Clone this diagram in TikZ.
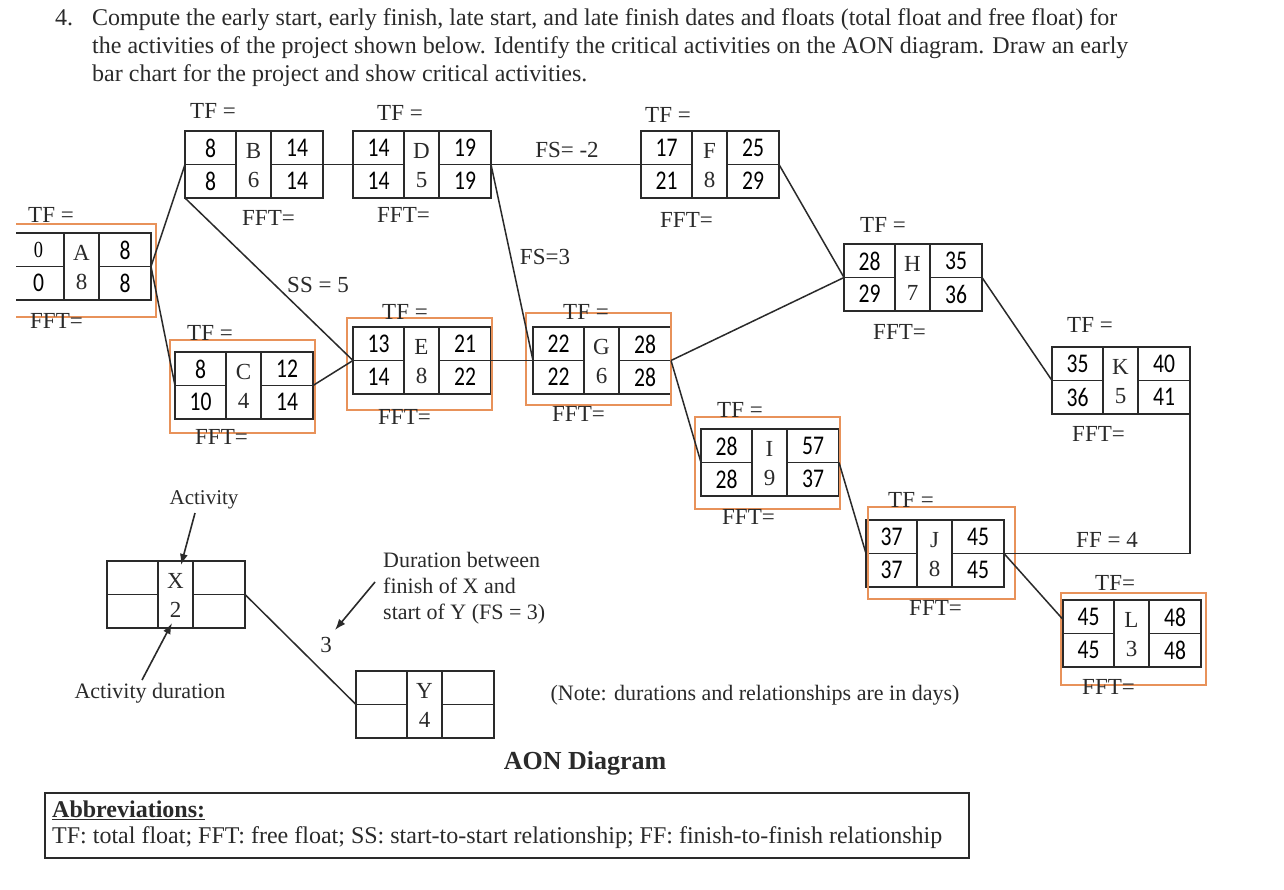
\documentclass[tikz,border=0pt]{standalone}
\usepackage{fontspec}
\setmainfont{Liberation Serif}
\newfontfamily\numfont{Carlito}
\usetikzlibrary{arrows.meta,calc}
\definecolor{ink}{HTML}{2A2A2A}
\definecolor{crit}{HTML}{E8925A}
\tikzset{
  actnode/.style={draw=ink, line width=1.8pt, minimum width=138pt, minimum height=67pt, inner sep=0pt, outer sep=0pt},
  boxline/.style={draw=ink, line width=1.8pt},
  num/.style={inner sep=0pt, text=black, font=\numfont\fontsize{27}{27}\selectfont},
  actl/.style={inner sep=0pt, text=ink, font=\fontsize{23}{23}\selectfont},
  lbl/.style={inner sep=0pt, text=ink, font=\fontsize{23}{23}\selectfont},
  txt/.style={inner sep=0pt, text=ink, font=\fontsize{22}{26}\selectfont},
  title/.style={inner sep=0pt, text=ink, font=\fontsize{24}{28}\selectfont},
  conn/.style={draw=ink, line width=1.5pt},
  critbox/.style={draw=crit, line width=1.6pt},
  pointer/.style={draw=ink, line width=1.6pt, -{Latex[length=11pt,width=8pt]}},
}
\newcommand\nb[1]{\scalebox{0.8}[1]{#1}}
\newcommand\actbox[9]{%
  \node[actnode, anchor=north west] (#1) at (#2,-#3) {};
  \draw[boxline] ($(#1.north west)+(51,0)$) -- ($(#1.south west)+(51,0)$);
  \draw[boxline] ($(#1.north west)+(86,0)$) -- ($(#1.south west)+(86,0)$);
  \draw[boxline] (#1.west) -- ($(#1.west)+(51,0)$);
  \draw[boxline] ($(#1.west)+(86,0)$) -- (#1.east);
  \node[num] (#1-es) at ($(#1.north west)+(25.5,-17)$) {\nb{#4}};
  \node[actl] (#1-n) at ($(#1.north west)+(68.5,-20)$) {#5};
  \node[num] (#1-ef) at ($(#1.north west)+(112,-17)$) {\nb{#6}};
  \node[num] (#1-ls) at ($(#1.north west)+(25.5,-50)$) {\nb{#7}};
  \node[actl] (#1-d) at ($(#1.north west)+(68.5,-49)$) {#8};
  \node[num] (#1-lf) at ($(#1.north west)+(112,-50)$) {\nb{#9}};
}
% name, dx, dy(above top), text
\newcommand\tflbl[4]{\node[lbl, anchor=west] (#1-tf) at ($(#1.north west)+(#2,#3)$) {#4};}
\newcommand\fftlbl[3]{\node[lbl, anchor=west] (#1-fft) at ($(#1.south west)+(#2,-#3)$) {FFT=};}
\begin{document}
\begin{tikzpicture}[x=1pt,y=1pt]
\useasboundingbox (0,0) rectangle (1284,-890);
\fill[white] (0,0) rectangle (1284,-890);
% title
\node[title, anchor=base west] (qnum) at (55,-26) {4.};
\node[title, anchor=base west] (q1) at (92,-26) {Compute the early start, early finish, late start, and late finish dates and floats (total float and free float) for};
\node[title, anchor=base west] (q2) at (92,-54) {the activities of the project shown below. Identify the critical activities on the AON diagram. Draw an early};
\node[title, anchor=base west] (q3) at (92,-82) {bar chart for the project and show critical activities.};

\begin{scope}
\clip (16,5) rectangle (1290,-895);
% activity boxes
\actbox{A}{13}{233}{{\rmfamily\fontsize{23}{23}\selectfont 0}}{A}{8}{0}{8}{8}
\actbox{B}{185}{131}{8}{B}{14}{8}{6}{14}
\actbox{C}{175}{352}{8}{C}{12}{10}{4}{14}
\actbox{D}{353}{131}{14}{D}{19}{14}{5}{19}
\actbox{E}{353}{327}{13}{E}{21}{14}{8}{22}
\actbox{F}{641}{131}{17}{F}{25}{21}{8}{29}
\actbox{G}{533}{327}{22}{G}{28}{22}{6}{28}
\actbox{H}{844}{244}{28}{H}{35}{29}{7}{36}
\actbox{I}{701}{429}{28}{I}{57}{28}{9}{37}
\actbox{J}{866}{520}{37}{J}{45}{37}{8}{45}
\actbox{K}{1052}{347}{35}{K}{40}{36}{5}{41}
\actbox{L}{1063}{600}{45}{L}{48}{45}{3}{48}

% critical highlight frames
\draw[critbox] (5,-224) rectangle (156,-317);
\draw[critbox] (170,-340) rectangle (315,-433);
\draw[critbox] (347,-318) rectangle (492,-410);
\draw[critbox] (526,-313) rectangle (671,-405);
\draw[critbox] (695,-417) rectangle (840,-509);
\draw[critbox] (868,-507) rectangle (1015,-599);
\draw[critbox] (1061,-593) rectangle (1206,-685);

% float labels
\tflbl{A}{15}{18}{TF =}
\tflbl{B}{5}{20}{TF =}
\tflbl{C}{12}{19}{TF =}
\tflbl{D}{24}{18}{TF =}
\tflbl{E}{29}{15}{TF =}
\tflbl{F}{4}{16}{TF =}
\tflbl{G}{30}{15}{TF =}
\tflbl{H}{16}{19}{TF =}
\tflbl{I}{16}{19}{TF =}
\tflbl{J}{22}{20}{TF =}
\tflbl{K}{15}{22}{TF =}
\tflbl{L}{32}{17}{TF=}
\fftlbl{A}{17}{21}
\fftlbl{B}{57}{20}
\fftlbl{C}{20}{18}
\fftlbl{D}{24}{17}
\fftlbl{E}{25}{23}
\fftlbl{F}{19}{22}
\fftlbl{G}{19}{20}
\fftlbl{H}{29}{21}
\fftlbl{I}{21}{21}
\fftlbl{J}{43}{21}
\fftlbl{K}{20}{20}
\fftlbl{L}{19}{20}

% connectors
\draw[conn] (A.east) -- (B.west);
\draw[conn] (A.east) -- (C.west);
\draw[conn] (B.east) -- (D.west);
\draw[conn] (B.south west) -- (E.west);
\draw[conn] (C.east) -- (E.west);
\draw[conn] (D.east) -- (F.west);
\draw[conn] (D.east) -- (G.west);
\draw[conn] (E.east) -- (G.west);
\draw[conn] (F.east) -- (H.west);
\draw[conn] (G.east) -- (H.west);
\draw[conn] (G.east) -- (I.west);
\draw[conn] (H.east) -- (K.west);
\draw[conn] (I.east) -- (J.west);
\draw[conn] (J.east) -- ([yshift=14pt]L.west);
\draw[conn] (J.east) -- (K.south east |- J.east) -- (K.south east);
\end{scope}

% relationship labels
\node[lbl] (ss) at (318,-285) {SS = 5};
\node[lbl] (fsm2) at (567,-150) {FS= -2};
\node[lbl] (fs3) at (545,-257) {FS=3};
\node[lbl] (ff4) at (1107,-540) {FF = 4};

% legend
\actbox{X}{107}{561}{}{X}{}{}{2}{}
\actbox{Y}{356}{671}{}{Y}{}{}{4}{}
\draw[conn] (X.east) -- (Y.west);
\node[txt, font=\fontsize{21}{21}\selectfont] (actlbl) at (204,-500) {Activity};
\node[txt] (durlbl) at (150,-693) {Activity duration};
\node[txt, align=left, anchor=west] (fslbl) at (383,-588) {Duration between\\finish of X and\\start of Y (FS = 3)};
\node[lbl] (three) at (326,-645) {3};
\coordinate (actS) at (195,-513);
\coordinate (actT) at (181,-565);
\coordinate (durS) at (142,-680);
\coordinate (durT) at (172,-623);
\coordinate (fsS) at (375,-582);
\coordinate (fsT) at (335,-630);
\draw[pointer] (actS) -- (actT);
\draw[pointer] (durS) -- (durT);
\draw[pointer] (fsS) -- (fsT);

\node[txt] (note) at (755,-695) {(Note: durations and relationships are in days)};
\node[txt, font=\bfseries\fontsize{26}{26}\selectfont] (aon) at (585,-763) {AON Diagram};

% abbreviations
\node[draw=ink, line width=1.5pt, minimum width=924pt, minimum height=65pt, inner sep=0pt, anchor=north west] (abbr) at (44,-792) {};
\node[txt, anchor=west, font=\bfseries\fontsize{24}{24}\selectfont] (abbrh) at (52,-810) {\underline{Abbreviations:}};
\node[txt, anchor=west, font=\fontsize{24}{24}\selectfont] (abbrt) at (52,-838) {TF: total float; FFT: free float; SS: start-to-start relationship; FF: finish-to-finish relationship};
\end{tikzpicture}
\end{document}
